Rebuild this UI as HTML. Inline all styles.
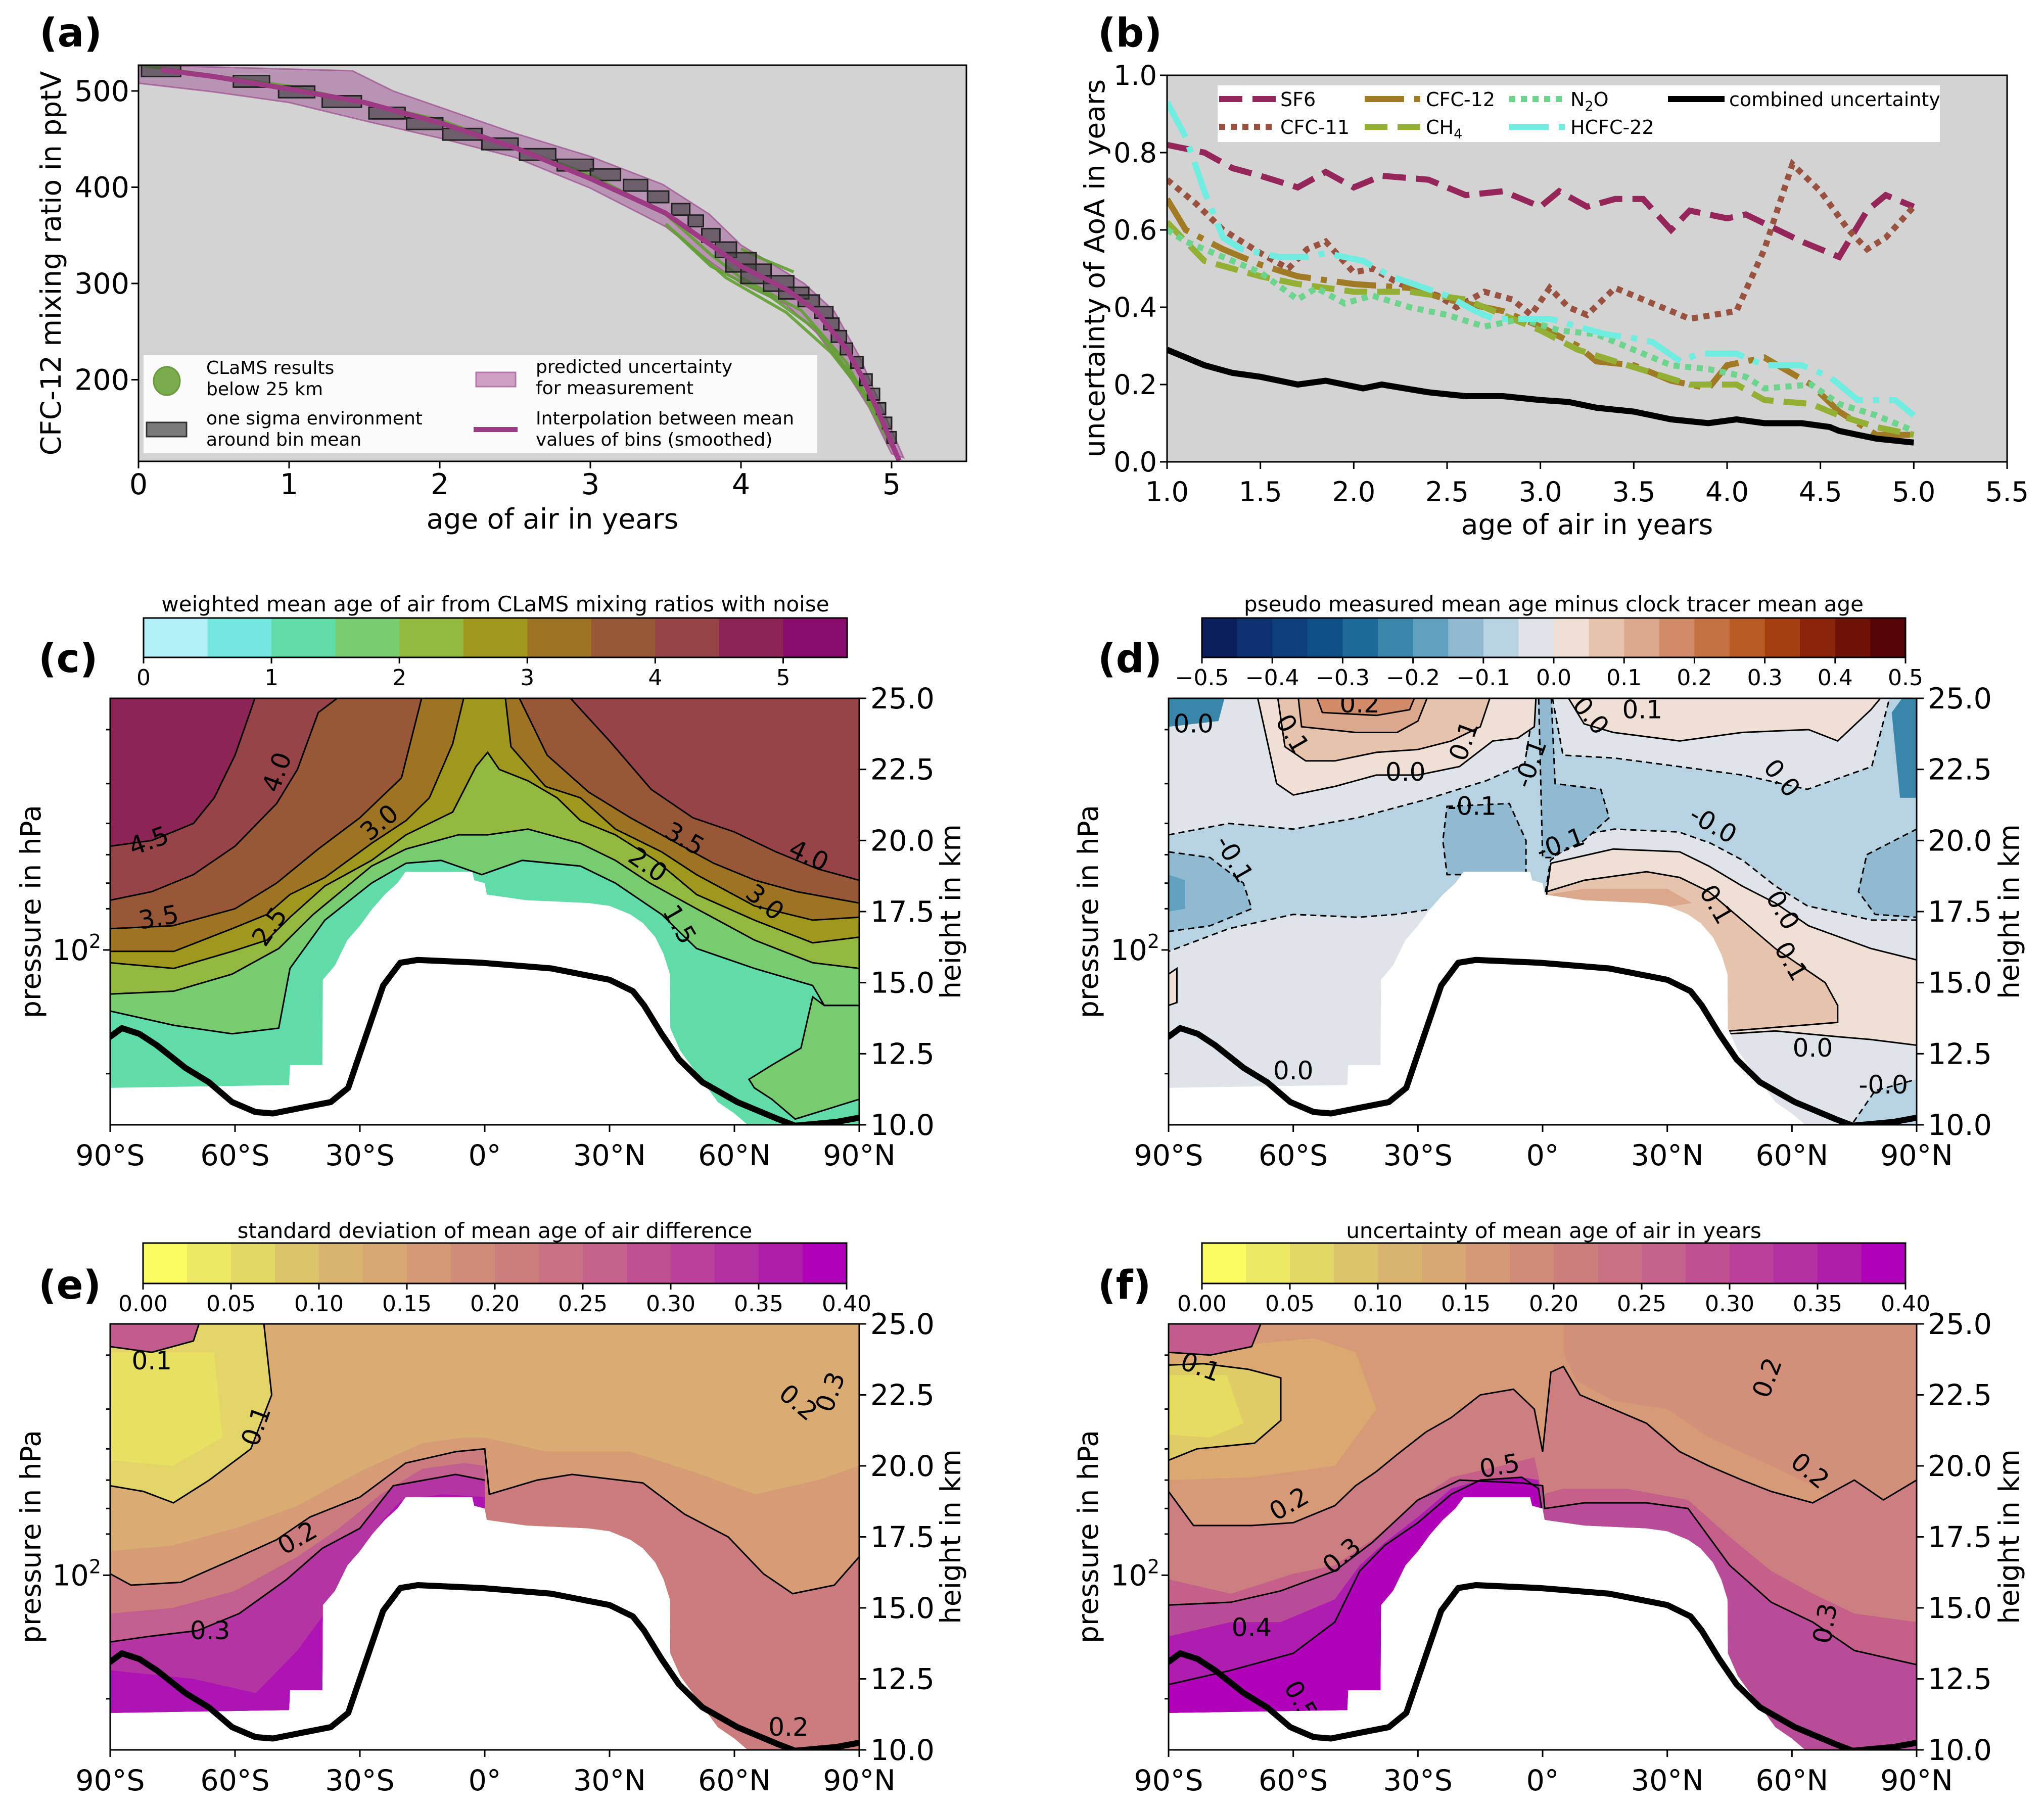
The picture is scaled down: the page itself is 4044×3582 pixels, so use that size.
<!DOCTYPE html>
<html><head><meta charset="utf-8">
<style>
html,body{margin:0;padding:0;background:#fff;}
svg{display:block;font-family:"DejaVu Sans","Liberation Sans",sans-serif;}
</style></head>
<body>
<svg id="fig" width="4044" height="3582" viewBox="0 0 4044 3582" xmlns="http://www.w3.org/2000/svg">
<defs id="defs"></defs>
<rect x="0" y="0" width="4044" height="3582" fill="#ffffff"/>
<g font-weight="bold" font-size="78" fill="#000">
<text x="78" y="92">(a)</text>
<text x="2172" y="92">(b)</text>
<text x="76" y="1330">(c)</text>
<text x="2172" y="1330">(d)</text>
<text x="76" y="2570">(e)</text>
<text x="2172" y="2570">(f)</text>
</g>
<g font-size="55" fill="#000" text-anchor="middle">
<text x="1093" y="1046">age of air in years</text>
<text transform="translate(120,521) rotate(-90)">CFC-12 mixing ratio in pptV</text>
<text x="3140" y="1057">age of air in years</text>
<text transform="translate(2185,531) rotate(-90)">uncertainty of AoA in years</text>
<text transform="translate(80,1804) rotate(-90)">pressure in hPa</text>
<text transform="translate(1900,1804) rotate(-90)">height in km</text>
<text transform="translate(2172,1804) rotate(-90)">pressure in hPa</text>
<text transform="translate(3994,1804) rotate(-90)">height in km</text>
<text transform="translate(80,3041) rotate(-90)">pressure in hPa</text>
<text transform="translate(1900,3041) rotate(-90)">height in km</text>
<text transform="translate(2172,3041) rotate(-90)">pressure in hPa</text>
<text transform="translate(3994,3041) rotate(-90)">height in km</text>
</g>
<g font-size="42" fill="#000" text-anchor="middle">
<text x="980" y="1210">weighted mean age of air from CLaMS mixing ratios with noise</text>
<text x="3074" y="1210">pseudo measured mean age minus clock tracer mean age</text>
<text x="979" y="2450">standard deviation of mean age of air difference</text>
<text x="3074" y="2450">uncertainty of mean age of air in years</text>
</g>
<g id="layer"></g>
</svg>
<script>
const NS='http://www.w3.org/2000/svg';
const layer=document.getElementById('layer');
const defs=document.getElementById('defs');
function mk(tag,parent,attrs){const e=document.createElementNS(NS,tag);for(const k in attrs)e.setAttribute(k,attrs[k]);parent.appendChild(e);return e;}

/* ---------------- PANEL A DATA ---------------- */
const aCurveAge=[0.15,0.5,1,1.5,2,2.5,3,3.5,3.8,4,4.3,4.5,4.7,4.8,4.9,5.0,5.05];
const aCurveMix=[522,515,502,488,467,441,409,373,340,318,294,271,232,204,171,134,116];
const aBandUpAge=[0,1.42,1.69,2.5,3.0,3.48,3.79,4.0,4.42,4.62,4.79,5.08];
const aBandUp=[527,521,500,456,432,403,372,340,300,271,223,119];
const aBandLoAge=[0,0.5,1,1.5,2,2.5,3,3.5,3.8,4.0,4.3,4.5,4.7,4.85,5.0];
const aBandLo=[508,499,488,469,451,431,399,359,322,300,278,249,208,171,123];
const binAge=[0.15,0.75,1.05,1.35,1.65,1.9,2.15,2.4,2.65,2.9,3.1,3.3,3.45,3.6,3.7,3.8,3.9,4.0,4.1,4.25,4.35,4.45,4.55,4.6,4.65,4.7,4.77,4.83,4.88,4.93,4.97,5.0];
const binMix=[522,510,499,489,477,466,455,445,434,423,413,402,390,377,365,350,335,322,310,300,290,282,270,258,245,232,218,200,185,170,155,140];
const binSdAge=[0.13,0.12,0.12,0.13,0.12,0.12,0.13,0.12,0.12,0.12,0.1,0.08,0.07,0.06,0.05,0.06,0.07,0.1,0.1,0.1,0.1,0.07,0.06,0.05,0.05,0.04,0.04,0.04,0.04,0.03,0.03,0.03];
const binSdMix=[7,6,6,6,6,6,6,6,6,6,6,6,6,6,6,7,8,10,10,8,6,6,6,6,6,6,6,6,6,6,6,6];
const g1Age=[0,1,2,3,3.5,3.8,4.0,4.4,4.7,5.0];
const g1Mix=[527,505,470,413,372,330,306,272,218,130];
const g2Age=[3.5,3.8,4.2,4.5,4.8,5.0];
const g2Mix=[362,318,286,252,192,138];
const g3Age=[3.55,3.9,4.3,4.6,4.9];
const g3Mix=[355,306,270,228,168];
const g4Age=[4.0,4.15,4.35];
const g4Mix=[336,325,312];

/* ---------------- PANEL B DATA ---------------- */
const bSF6x=[1.0,1.1,1.2,1.35,1.5,1.7,1.85,2.0,2.15,2.4,2.6,2.8,3.0,3.1,3.25,3.4,3.55,3.7,3.8,4.0,4.1,4.4,4.6,4.75,4.85,5.0];
const bSF6y=[0.82,0.81,0.80,0.76,0.74,0.71,0.75,0.71,0.74,0.73,0.69,0.70,0.66,0.70,0.66,0.68,0.68,0.60,0.65,0.63,0.64,0.57,0.53,0.65,0.69,0.66];
const bC11x=[1.0,1.15,1.3,1.5,1.65,1.75,1.85,2.0,2.1,2.25,2.45,2.55,2.7,2.85,2.95,3.05,3.15,3.25,3.4,3.6,3.8,4.05,4.2,4.35,4.5,4.65,4.75,4.85,5.0];
const bC11y=[0.73,0.67,0.60,0.54,0.50,0.55,0.57,0.49,0.50,0.46,0.43,0.40,0.44,0.42,0.38,0.45,0.40,0.38,0.45,0.41,0.37,0.39,0.55,0.77,0.70,0.60,0.55,0.58,0.66];
const bC12x=[1.0,1.1,1.3,1.5,1.7,2.0,2.3,2.5,2.8,3.0,3.2,3.3,3.5,3.7,3.9,4.0,4.2,4.45,4.6,4.8,5.0];
const bC12y=[0.68,0.60,0.55,0.51,0.48,0.46,0.45,0.42,0.39,0.35,0.30,0.26,0.25,0.21,0.19,0.25,0.27,0.20,0.13,0.07,0.07];
const bCH4x=[1.0,1.1,1.2,1.35,1.5,1.7,2.0,2.3,2.6,2.8,3.0,3.2,3.4,3.6,3.8,4.05,4.2,4.45,4.6,4.8,5.0];
const bCH4y=[0.62,0.57,0.52,0.50,0.48,0.46,0.44,0.44,0.42,0.38,0.34,0.29,0.26,0.23,0.20,0.20,0.16,0.15,0.12,0.09,0.07];
const bN2Ox=[1.0,1.1,1.3,1.5,1.7,1.8,1.95,2.1,2.3,2.5,2.7,2.9,3.1,3.3,3.5,3.7,3.9,4.1,4.2,4.45,4.6,4.8,5.0];
const bN2Oy=[0.60,0.57,0.53,0.49,0.42,0.45,0.41,0.43,0.40,0.38,0.35,0.37,0.34,0.33,0.29,0.25,0.24,0.22,0.19,0.20,0.15,0.12,0.08];
const bH22x=[1.0,1.1,1.2,1.3,1.4,1.6,1.75,1.85,2.05,2.2,2.5,2.65,2.75,2.95,3.05,3.2,3.35,3.5,3.6,3.75,3.85,4.05,4.2,4.4,4.55,4.7,4.9,5.0];
const bH22y=[0.93,0.84,0.70,0.58,0.55,0.53,0.53,0.54,0.52,0.48,0.43,0.39,0.37,0.37,0.37,0.35,0.33,0.32,0.31,0.26,0.28,0.28,0.25,0.25,0.22,0.16,0.16,0.12];
const bCombx=[1.0,1.2,1.35,1.5,1.7,1.85,2.05,2.15,2.4,2.6,2.8,3.0,3.15,3.3,3.5,3.7,3.9,4.05,4.2,4.4,4.55,4.6,4.8,5.0];
const bComby=[0.29,0.25,0.23,0.22,0.20,0.21,0.19,0.20,0.18,0.17,0.17,0.16,0.155,0.14,0.13,0.11,0.10,0.11,0.10,0.10,0.09,0.08,0.06,0.05];
const bTicksX=[1.0,1.5,2.0,2.5,3.0,3.5,4.0,4.5,5.0,5.5];
const bTicksY=[0.0,0.2,0.4,0.6,0.8,1.0];

/* ---------------- CONTOUR PANEL DATA (lat, km) ---------------- */
const latTicks=[-90,-60,-30,0,30,60,90];
const latTickLabels=['90°S','60°S','30°S','0°','30°N','60°N','90°N'];
const kmTicks=[10,12.5,15,17.5,20,22.5,25];
const pMinorKm=[23.9,22.0,20.6,19.5,18.5,17.6,11.8];
const p100Km=16.15;
const maskLine=[[-90,11.3],[-47,11.4],[-46.8,12.1],[-39,12.1],[-38.9,15.1],[-36,15.6],[-33,16.5],[-30,17.0],[-27,17.6],[-24,18.1],[-21,18.5],[-19,18.9],[-3,18.9],[-2.5,18.6],[0,18.5],[0.5,18.1],[10,17.9],[25,17.8],[30,17.7],[35,17.4],[38,17.1],[41,16.6],[43,16.0],[44.5,15.3],[44.6,13.4],[47,12.6],[50,12.0],[53,11.4],[56,10.8],[60,10.4],[64,9.9],[90,9.9]];
const tropo=[[-90,13.1],[-87.2,13.4],[-83,13.2],[-78.8,12.8],[-71.9,12.0],[-66.3,11.5],[-60.7,10.8],[-55.1,10.45],[-50.9,10.4],[-44,10.6],[-37,10.8],[-32.8,11.3],[-28.6,13.1],[-24.4,14.9],[-20.3,15.7],[-16.1,15.8],[-0.7,15.7],[16,15.5],[30,15.1],[35.6,14.7],[38.3,14.2],[42.5,13.2],[46.7,12.3],[52.3,11.5],[60.7,10.8],[70.5,10.2],[74.6,9.97],[84.4,10.1],[90,10.25]];

const cIso15=[[-90,14.0],[-74.7,13.5],[-60.7,13.2],[-49.5,13.4],[-46.8,15.5],[-38.4,17.2],[-27.2,18.5],[-18.9,19.2],[-10.5,19.3],[-0.7,18.8],[9,19.3],[23,19.1],[31.4,18.5],[42.5,17.4],[50.9,16.2],[64.8,15.5],[78.8,14.9],[81.6,14.2],[90,14.2]];
const cIso20=[[-90,14.6],[-74.7,14.7],[-60.7,15.3],[-49.5,16.2],[-41.2,17.4],[-27.2,19.1],[-18.9,19.7],[-6.3,20.2],[0.7,20.2],[10.4,20.4],[23,19.9],[31.4,19.3],[39.7,18.5],[50.9,17.6],[64.8,16.5],[78.8,15.7],[90,15.5]];
const cIso25=[[-90,15.7],[-74.7,15.5],[-60.7,16.1],[-52.3,16.5],[-46.8,17.3],[-38.4,18.4],[-27.2,19.3],[-18.9,20.2],[-7.7,21.0],[-2.1,22.6],[0.7,23.1],[3.5,22.5],[10.4,22.1],[17.4,21.5],[23,20.7],[31.4,20.2],[41.1,19.3],[50.9,18.1],[64.8,17.2],[78.8,16.4],[90,16.6]];
const cIso30=[[-90,16.1],[-74.7,16.1],[-60.7,16.9],[-52.3,17.4],[-46.8,18.1],[-38.4,18.7],[-27.2,19.9],[-18.9,20.7],[-13.3,21.5],[-7.7,23.4],[-4.9,25.1],[0,26],[4.9,25.1],[6.3,23.3],[14.6,21.9],[23,21.5],[31.4,20.4],[42.5,19.6],[50.9,18.8],[64.8,17.7],[78.8,17.2],[90,17.3]];
const cIso35=[[-90,16.9],[-75,17.0],[-60,17.6],[-50,18.5],[-40,19.7],[-30,20.8],[-20,22.2],[-15,25.1],[-10,27],[5,27],[8,25.1],[15,23.0],[25,21.7],[35,20.8],[45,20.0],[55,19.2],[65,18.6],[75,18.2],[90,17.8]];
const cIso40=[[-90,17.9],[-80,18.2],[-70,18.8],[-60,19.8],[-50,21.3],[-45,22.5],[-40,24.5],[-35,25.05],[-26,25.1],[-20,27],[15,27],[20,25.1],[30,23.5],[40,21.8],[50,20.8],[60,20.3],[70,19.6],[80,19.0],[90,18.6]];
const cIso45=[[-90,19.8],[-80,20.0],[-70,20.6],[-65,21.5],[-60,23],[-55,25.1],[-50,27],[90,27]];
const cBlobGreen=[[63.5,11.6],[69,12.1],[76,12.7],[78.8,14.5],[81.6,14.2],[90,14.2],[90,10.9],[74.6,10.2],[69,10.9],[64.8,11.3]];
const cColors=['#b4f0f8','#74e8e0','#60dca8','#78cc70','#92b840','#a0981c','#9c7424','#985838','#964448','#8c2456','#880c6c'];

const dBlue=[[-90,20.2],[-75.5,20.6],[-60,20.4],[-44.5,20.8],[-29.1,21.4],[-13.6,22.1],[-4.3,22.7],[-1.5,25.3],[2,25.3],[4.9,23.0],[17.3,22.9],[32.8,22.6],[48.2,22.3],[63.7,21.8],[79.2,22.6],[84,25.3],[90,25.3],[90,17.2],[79.2,17.2],[63.7,17.7],[56,18.4],[48.2,19.3],[40.5,19.9],[32.8,20.3],[17.3,20.4],[9.6,20.2],[1.9,19.3],[0.5,18.0],[0,17.5],[-26,17.6],[-35.3,17.4],[-44.5,17.3],[-60,17.4],[-75.5,16.9],[-90,16.1]];
const dBlueL=[[-90,19.6],[-80,19.4],[-72,18.5],[-70,17.6],[-80,17.0],[-90,16.8]];
const dBlueM=[[-23,21.2],[-8,21.3],[-4,20.0],[-4,18.8],[-23,18.8],[-24,20.0]];
const dBlueEq=[[-1,25.3],[2,25.3],[3,22],[14,21.8],[16,20.8],[10,20.0],[2,19.4],[0,19.4]];
const dBlueR=[[78,19.5],[90,20.4],[90,17.3],[80,17.4],[76,18.2]];
const dDarkTL=[[-90,25.3],[-76,25.3],[-78,24.2],[-90,24.0]];
const dDarkTR=[[84,24.5],[88,25.3],[90,25.3],[90,21.5],[86,21.5],[85,23]];
const dDarkL=[[-90,18.8],[-86,18.6],[-86,17.6],[-90,17.5]];
const dPink0=[[-69,25.3],[-64,22.0],[-60,21.6],[-50,21.9],[-40,22.3],[-30,22.3],[-20,22.6],[-12,23.5],[-6,23.6],[-2,24.0],[-1.5,25.3]];
const dPink1=[[-64,25.3],[-62,23.3],[-57,22.8],[-50,22.8],[-40,23.1],[-30,23.2],[-22,23.5],[-15,24.0],[-12,25.3]];
const dPink2=[[-59,25.3],[-58,24.0],[-45,23.8],[-35,23.8],[-30,24.2],[-27,25.3]];
const dPink3=[[-55,25.3],[-53,24.5],[-40,24.4],[-32,24.6],[-30,25.3]];
const dPinkTR=[[5,25.3],[10,24.1],[17,23.8],[33,23.5],[48,23.8],[64,23.9],[71,23.5],[79,24.6],[83,25.3]];
const dPinkR0=[[1,18.2],[2,19.2],[17,19.7],[33,19.6],[40,19.1],[48,18.4],[56,17.8],[64,17.0],[79,16.2],[90,15.8],[90,12.8],[79,13.0],[71,13.1],[56,13.3],[45,13.2],[45,9.5],[1,9.5]];
const dPinkR1=[[1,18.2],[10,18.6],[25,18.9],[33,18.7],[40,18.2],[48,17.2],[56,16.2],[68,15.0],[71,14.2],[71,13.6],[45,13.3],[45,9.5],[1,9.5]];
const dPinkR2=[[1,18.1],[10,18.3],[30,18.3],[36,17.8],[1,17.0]];
const dPinkL=[[-90,15.3],[-88,15.5],[-88,14.3],[-90,14.2]];
const dBlueBR=[[72,9.5],[80,11.2],[90,11.6],[90,9.5]];
const dColors=['#0a1f5c','#0d306e','#0e3f7a','#0f5186','#1d6a98','#3a85aa','#62a0c0','#8fbad2','#b7d3e2','#dfe4ea','#f0dfd4','#e6c3ad','#dca88b','#d08c68','#c57142','#b85b24','#a43f12','#8a240a','#6e1208','#560408'];

const eYellow=[[-90,25.3],[-53.3,25.3],[-51.2,22.5],[-56.2,20.6],[-66.2,19.5],[-74.8,18.7],[-82,19.1],[-90,19.3]];
const eYellowIn=[[-90,24],[-65,24],[-63,21],[-75,20],[-90,20.2]];
const eCorner=[[-90,25.3],[-68,25.3],[-70,24.4],[-80,24.0],[-90,24.2]];
const eIso15=[[-90,17.0],[-75,17.2],[-60,17.8],[-45,18.6],[-30,19.8],[-15,20.8],[-5,21.0],[0,21.0],[15,20.5],[35,20.5],[50,19.8],[65,19.0],[80,19.5],[90,20]];
const eIso20=[[-90,16.2],[-85,15.8],[-73,15.9],[-59,16.8],[-50,17.4],[-42,18.2],[-30,18.9],[-19,20.1],[-7,20.5],[0,20.6],[1.1,19.0],[12.6,19.5],[21,19.7],[38,19.4],[48,18.3],[58.5,17.5],[67,16.2],[74,15.5],[84,15.8],[90,16.8]];
const eIso25=[[-90,14.8],[-75,15.0],[-60,15.6],[-45,16.8],[-35,17.8],[-25,19.0],[-15,19.9],[-5,20.1],[0,20.0],[0.5,5],[90,5]];
const eIso30=[[-90,13.8],[-80.5,14.0],[-69,14.2],[-59,14.8],[-47.6,16.0],[-39,17.1],[-30,17.8],[-22,19.3],[-7,19.7],[0,19.5],[0.5,5],[90,5]];
const eIso35=[[-90,12.8],[-70,12.5],[-55,12.0],[-45,13.5],[-35,15.5],[-25,18],[-20,18.8],[-10,19.0],[0,18.9],[0.5,5],[90,5]];
const efColors=['#fcfc62','#ecea64','#e2d866','#dcc46a','#d9b470','#d8a872','#d49a76','#d08c78','#cc7e7c','#c87284','#c4628c','#be5092','#b8409a','#b230a2','#ae1eaa','#b000b8'];

const fBand125=[[-90,24],[-55,24.5],[-45,24],[-40,22],[-50,20],[-70,19.6],[-90,19.5]];
const fYellow=[[-90,23.55],[-81.6,23.6],[-70.8,23.4],[-63,23.1],[-63,21.6],[-69.3,20.8],[-83.2,20.6],[-90,20.2]];
const fYellowIn=[[-90,23.2],[-76,23.2],[-72,21.5],[-80,21],[-90,21.1]];
const fCorner=[[-90,25.3],[-67,25.3],[-70,24.2],[-80,23.9],[-90,24.0]];
const fRight=[[5,25.3],[90,25.3],[90,18.5],[75,18.5],[65,19.3],[55,20.0],[40,21],[30,22],[17,22.3],[8,23],[5,24]];
const fIso20=[[-90,19.1],[-84,17.9],[-70,17.9],[-60,18.0],[-50,18.6],[-45,19.3],[-40,19.8],[-35,20.4],[-28,21.2],[-22,21.7],[-15,22.5],[-7,22.7],[-2,22.0],[0,20.5],[2,23.3],[5,23.5],[9,22.5],[17,22.0],[25,21.5],[33,20.5],[40,20.0],[48,19.5],[55,19.1],[65,18.7],[75,19.5],[82,18.8],[90,19.5]];
const fIso25=[[-90,16.0],[-75,15.5],[-60,16.2],[-50,16.5],[-40,17.5],[-30,18.8],[-22,19.6],[-10,20.0],[-2,20.3],[0,19.0],[5,19.2],[20,19.2],[35,18.8],[45,17.5],[55,16.3],[65,15.5],[75,14.8],[90,14.5]];
const fIso30=[[-90,15.1],[-75,15.2],[-63,15.6],[-50,16.3],[-41,17.3],[-30,18.8],[-20,19.5],[-5,19.4],[0,19.3],[0.5,18.5],[10,18.7],[25,18.7],[35,18.5],[40,17.5],[45,16.5],[55,15.2],[65,14.5],[75,13.5],[90,13.0]];
const fIso35=[[-90,14.0],[-75,14.5],[-63,14.5],[-50,15.3],[-44,16.5],[-38,17.3],[-30,18.2],[-22,19.2],[-15,19.5],[-5,19.6],[-1,19.5],[0,18.3],[0.5,5],[90,5]];
const fIso40=[[-90,12.3],[-75,12.8],[-60,13.4],[-50,14.5],[-44,16.3],[-38,17.2],[-30,18.0],[-22,19.0],[-15,19.5],[-5,19.6],[-1,19.2],[0,18.3],[0.5,5],[90,5]];

/* ---------------- helpers ---------------- */
function tick(parent,x1,y1,x2,y2){return mk('line',parent,{x1:x1,y1:y1,x2:x2,y2:y2,stroke:'#000','stroke-width':3});}
function txt(parent,x,y,s,size,anchor){const t=mk('text',parent,{x:x,y:y,'font-size':size,'text-anchor':anchor||'middle',fill:'#000'});t.textContent=s;return t;}
function pairsPath(pairs,X,Y){return pairs.map((p,i)=>(i?'L':'M')+X(p[0]).toFixed(1)+','+Y(p[1]).toFixed(1)).join('')}

/* ---------------- PANEL A ---------------- */
(function(){
 const P={x0:274,x1:1912,y0:129,y1:913};
 const X=a=>P.x0+a*(1764-274)/5; const Y=m=>180+(500-m)*1.905;
 const g=mk('g',layer,{});
 
 
 const cp=mk('clipPath',defs,{id:'clipA'}); mk('rect',cp,{x:P.x0,y:P.y0,width:P.x1-P.x0,height:P.y1-P.y0});
 const bg=mk('rect',g,{x:P.x0,y:P.y0,width:P.x1-P.x0,height:P.y1-P.y0,fill:'#d3d3d3'});
 
 
 const inner=mk('g',g,{'clip-path':'url(#clipA)'});
 let d='';
 aBandUpAge.forEach((a,i)=>{d+=(i?'L':'M')+X(a)+','+Y(aBandUp[i]);});
 for(let i=aBandLoAge.length-1;i>=0;i--){d+='L'+X(aBandLoAge[i])+','+Y(aBandLo[i]);}
 const band=mk('path',inner,{d:d+'Z',fill:'rgba(150,60,135,0.42)',stroke:'rgba(150,60,135,0.6)','stroke-width':3});
 
 
 [[g1Age,g1Mix],[g2Age,g2Mix],[g3Age,g3Mix],[g4Age,g4Mix]].forEach(s=>{
  const pl=mk('polyline',inner,{points:s[0].map((a,i)=>X(a)+','+Y(s[1][i])).join(' '),fill:'none',stroke:'#62a034','stroke-width':6,opacity:0.9});
  
  
 });
 binAge.forEach((a,i)=>{
  const r=mk('rect',inner,{x:X(a-binSdAge[i]),y:Y(binMix[i]+binSdMix[i]),width:X(a+binSdAge[i])-X(a-binSdAge[i]),height:Y(binMix[i]-binSdMix[i])-Y(binMix[i]+binSdMix[i]),fill:'rgba(60,60,60,0.6)',stroke:'#222','stroke-width':3});
  
  
 });
 const cur=mk('polyline',inner,{points:aCurveAge.map((a,i)=>X(a)+','+Y(aCurveMix[i])).join(' '),fill:'none',stroke:'#9c3a84','stroke-width':10,'stroke-linejoin':'round'});
 
 
 const lg=mk('g',g,{});
 
 
 mk('rect',lg,{x:284,y:703,width:1333,height:194,fill:'#fff',opacity:0.9});
 mk('ellipse',lg,{cx:330,cy:754,rx:26,ry:28,fill:'#7aab4c',stroke:'#6a9a3c','stroke-width':3});
 txt(lg,408,740,'CLaMS results',36,'start');
 txt(lg,408,782,' below 25 km',36,'start');
 mk('rect',lg,{x:290,y:836,width:79,height:28,fill:'#7a7a7a',stroke:'#333','stroke-width':3});
 txt(lg,408,840,'one sigma environment',36,'start');
 txt(lg,408,882,'around bin mean',36,'start');
 mk('rect',lg,{x:942,y:737,width:78,height:28,fill:'#cda0c4',stroke:'#b476aa','stroke-width':3});
 txt(lg,1060,738,'predicted uncertainty',36,'start');
 txt(lg,1060,780,'for measurement',36,'start');
 mk('line',lg,{x1:937,y1:850,x2:1024,y2:850,stroke:'#9c3a84','stroke-width':10});
 txt(lg,1060,840,'Interpolation between mean',36,'start');
 txt(lg,1060,882,'values of bins (smoothed)',36,'start');
 mk('rect',g,{x:P.x0,y:P.y0,width:P.x1-P.x0,height:P.y1-P.y0,fill:'none',stroke:'#000','stroke-width':3});
 [0,1,2,3,4,5].forEach(v=>{tick(g,X(v),P.y1,X(v),P.y1+14);const t=txt(g,X(v),978,String(v),57);
  
  });
 [200,300,400,500].forEach(v=>{tick(g,P.x0,Y(v),P.x0-14,Y(v));const t=txt(g,256,Y(v)+20,String(v),57,'end');
  
  });
})();

/* ---------------- PANEL B ---------------- */
(function(){
 const P={x0:2309,x1:3971,y0:149,y1:914};
 const X=a=>P.x0+(a-1)/4.5*(P.x1-P.x0); const Y=v=>P.y1-v*(P.y1-P.y0);
 const g=mk('g',layer,{});
 
 
 const cp=mk('clipPath',defs,{id:'clipB'}); mk('rect',cp,{x:P.x0,y:P.y0,width:P.x1-P.x0,height:P.y1-P.y0});
 const bg=mk('rect',g,{x:P.x0,y:P.y0,width:P.x1-P.x0,height:P.y1-P.y0,fill:'#d3d3d3'});
 
 
 const inner=mk('g',g,{'clip-path':'url(#clipB)'});
 const series=[
  ['sf6-line',bSF6x,bSF6y,'#94265a','46,20'],
  ['cfc11-line',bC11x,bC11y,'#9a5240','12,11'],
  ['cfc12-line',bC12x,bC12y,'#a07a24','78,20,12,20'],
  ['ch4-line',bCH4x,bCH4y,'#94b034','45,20'],
  ['n2o-line',bN2Ox,bN2Oy,'#6cd48c','12,11'],
  ['hcfc22-line',bH22x,bH22y,'#70ece0','78,20,12,20'],
  ['combined-uncertainty-line',bCombx,bComby,'#000','none']];
 series.forEach(s=>{
  const pl=mk('polyline',inner,{points:s[1].map((a,i)=>X(a).toFixed(1)+','+Y(s[2][i]).toFixed(1)).join(' '),fill:'none',stroke:s[3],'stroke-width':12,'stroke-dasharray':s[4]});
  
  
 });
 const lg=mk('g',g,{});
 
 
 mk('rect',lg,{x:2409,y:169,width:1429,height:112,fill:'#fff'});
 const items=[['SF6',2412,196,'#94265a','46,20'],['CFC-11',2412,251,'#9a5240','12,11'],['CFC-12',2700,196,'#a07a24','78,20,12,20'],['CH',2700,251,'#94b034','45,20'],['N',2986,196,'#6cd48c','12,11'],['HCFC-22',2986,251,'#70ece0','78,20,12,20'],['combined uncertainty',3300,196,'#000','none']];
 items.forEach(it=>{
  const ln=mk('line',lg,{x1:it[1],y1:it[2],x2:it[1]+112,y2:it[2],stroke:it[3],'stroke-width':12,'stroke-dasharray':it[4]});
  
  
  const t=txt(lg,it[1]+121,it[2]+14,it[0],38,'start');
  
  
  if(it[0]==='CH'){const s=mk('tspan',t,{'font-size':27,dy:9});s.textContent='4';}
  if(it[0]==='N'){const s=mk('tspan',t,{'font-size':27,dy:9});s.textContent='2';const s2=mk('tspan',t,{dy:-9});s2.textContent='O';}
 });
 mk('rect',g,{x:P.x0,y:P.y0,width:P.x1-P.x0,height:P.y1-P.y0,fill:'none',stroke:'#000','stroke-width':3});
 bTicksX.forEach(v=>{tick(g,X(v),P.y1,X(v),P.y1+14);const t=txt(g,X(v),992,v.toFixed(1),54);
  
  });
 bTicksY.forEach(v=>{tick(g,P.x0,Y(v),P.x0-14,Y(v));const t=txt(g,P.x0-20,Y(v)+19,v.toFixed(1),54,'end');
  
  });
})();

/* ---------------- CONTOUR PANELS ---------------- */
function fieldPanel(cfg){
 const P=cfg;
 const X=lat=>P.x0+(lat+90)/180*(P.x1-P.x0);
 const Y=km=>P.y1-(km-10)/15*(P.y1-P.y0);
 const g=mk('g',layer,{});
 
 
 const cpR=mk('clipPath',defs,{id:'clipR'+P.id}); mk('rect',cpR,{x:P.x0,y:P.y0,width:P.x1-P.x0,height:P.y1-P.y0});
 const cpM=mk('clipPath',defs,{id:'clipM'+P.id});
 let md=pairsPath(maskLine,X,Y)+'L'+X(90)+','+(P.y0-5)+'L'+X(-90)+','+(P.y0-5)+'Z';
 mk('path',cpM,{d:md});
 const outer=mk('g',g,{'clip-path':'url(#clipR'+P.id+')'});
 const f=mk('g',outer,{'clip-path':'url(#clipM'+P.id+')'});
 
 
 mk('rect',f,{x:P.x0,y:P.y0-10,width:P.x1-P.x0,height:P.y1-P.y0+20,fill:P.base});
 P.layers.forEach(L=>{
  let d=pairsPath(L.pts,X,Y);
  if(L.type==='above') d+='L'+X(90)+','+(P.y0-50)+'L'+X(-90)+','+(P.y0-50);
  if(L.type==='below') d+='L'+X(90)+','+(P.y1+50)+'L'+X(-90)+','+(P.y1+50);
  const p=mk('path',f,{d:d+'Z',fill:L.color,stroke:L.stroke||'none','stroke-width':L.stroke?3:0,'stroke-dasharray':L.dash||'none'});
  
  
 });
 (P.lines||[]).forEach(L=>{
  const p=mk('path',f,{d:pairsPath(L.pts,X,Y)+(L.closed?'Z':''),fill:'none',stroke:'#000','stroke-width':3,'stroke-dasharray':L.dash||'none'});
  
  
 });
 (P.labels||[]).forEach(L=>{
  const t=mk('text',f,{x:0,y:0,'font-size':50,'text-anchor':'middle',fill:'#000',transform:'translate('+X(L[0]).toFixed(1)+','+Y(L[1]).toFixed(1)+') rotate('+L[3]+')'});
  t.textContent=L[2];
  
  
 });
 const tp=mk('path',outer,{d:pairsPath(tropo,X,Y),fill:'none',stroke:'#000','stroke-width':12,'stroke-linejoin':'round','stroke-linecap':'round'});
 
 
 const fr=mk('rect',g,{x:P.x0,y:P.y0,width:P.x1-P.x0,height:P.y1-P.y0,fill:'none',stroke:'#000','stroke-width':3});
 
 
 latTicks.forEach((v,i)=>{tick(g,X(v),P.y1,X(v),P.y1+14);const t=txt(g,X(v),P.y1+80,latTickLabels[i],57);
  
  });
 kmTicks.forEach(v=>{tick(g,P.x1,Y(v),P.x1+14,Y(v));const t=txt(g,P.x1+22,Y(v)+20,v.toFixed(1),57,'start');
  
  });
 pMinorKm.forEach(v=>{tick(g,P.x0,Y(v),P.x0-8,Y(v));});
 tick(g,P.x0,Y(p100Km),P.x0-14,Y(p100Km));
 const t=txt(g,P.x0-18,Y(p100Km)+20,'10',57,'end');
 const sp=mk('tspan',t,{'font-size':38,dy:-24});sp.textContent='2';
 
 
 const cb=mk('g',g,{});
 
 
 const n=P.cbColors.length, w=(P.cbx1-P.cbx0)/n;
 P.cbColors.forEach((c,i)=>{const r=mk('rect',cb,{x:P.cbx0+i*w,y:P.cby0,width:w+0.6,height:P.cby1-P.cby0,fill:c});
  
  });
 mk('rect',cb,{x:P.cbx0,y:P.cby0,width:P.cbx1-P.cbx0,height:P.cby1-P.cby0,fill:'none',stroke:'#000','stroke-width':3});
 const CX=v=>P.cbx0+(v-P.cbMin)/(P.cbMax-P.cbMin)*(P.cbx1-P.cbx0);
 P.cbTicks.forEach((v,i)=>{tick(cb,CX(v),P.cby1,CX(v),P.cby1+12);const tt=txt(cb,CX(v),P.cby1+55,P.cbLabels[i],44);
  
  });
}

const cbTicksC=[0,1,2,3,4,5];
const cbTicksD=[-0.5,-0.4,-0.3,-0.2,-0.1,0,0.1,0.2,0.3,0.4,0.5];
const cbTicksE=[0,0.05,0.1,0.15,0.2,0.25,0.3,0.35,0.4];

fieldPanel({id:'c',x0:218,x1:1700,y0:1382,y1:2226,base:cColors[2],
 cbColors:cColors,cbx0:284,cbx1:1676,cby0:1223,cby1:1301,cbMin:0,cbMax:5.5,cbTicks:cbTicksC,cbLabels:cbTicksC.map(String),
 layers:[
  {type:'above',pts:cIso15,color:cColors[3]},
  {type:'poly',pts:cBlobGreen,color:cColors[3]},
  {type:'above',pts:cIso20,color:cColors[4]},
  {type:'above',pts:cIso25,color:cColors[5]},
  {type:'above',pts:cIso30,color:cColors[6]},
  {type:'above',pts:cIso35,color:cColors[7]},
  {type:'above',pts:cIso40,color:cColors[8]},
  {type:'above',pts:cIso45,color:cColors[9]}],
 lines:[{pts:cIso15},{pts:cBlobGreen,closed:true},{pts:cIso20},{pts:cIso25},{pts:cIso30},{pts:cIso35},{pts:cIso40},{pts:cIso45}],
 labels:[[-80,19.7,'4.5',-20],[-48,22.3,'4.0',-70],[-78,17.0,'3.5',-10],[-24,20.4,'3.0',-40],[-50,16.8,'2.5',-55],[38,18.9,'2.0',35],[45,16.9,'1.5',60],[47,19.8,'3.5',30],[66,17.6,'3.0',40],[77,19.2,'4.0',25]]});

fieldPanel({id:'d',x0:2312,x1:3792,y0:1382,y1:2226,base:dColors[9],
 cbColors:dColors,cbx0:2378,cbx1:3770,cby0:1223,cby1:1301,cbMin:-0.5,cbMax:0.5,cbTicks:cbTicksD,cbLabels:cbTicksD.map(v=>(v<0?'\u2212':'')+Math.abs(v).toFixed(1)),
 layers:[
  {type:'poly',pts:dBlue,color:dColors[8],stroke:'#000',dash:'12,8'},
  {type:'poly',pts:dBlueL,color:dColors[7],stroke:'#000',dash:'12,8'},
  {type:'poly',pts:dBlueM,color:dColors[7],stroke:'#000',dash:'12,8'},
  {type:'poly',pts:dBlueEq,color:dColors[7],stroke:'#000',dash:'12,8'},
  {type:'poly',pts:dBlueR,color:dColors[7],stroke:'#000',dash:'12,8'},
  {type:'poly',pts:dDarkTL,color:dColors[5]},
  {type:'poly',pts:dDarkTR,color:dColors[5]},
  {type:'poly',pts:dDarkL,color:dColors[6]},
  {type:'poly',pts:dPink0,color:dColors[10],stroke:'#000'},
  {type:'poly',pts:dPink1,color:dColors[11],stroke:'#000'},
  {type:'poly',pts:dPink2,color:dColors[12],stroke:'#000'},
  {type:'poly',pts:dPink3,color:dColors[13],stroke:'#000'},
  {type:'poly',pts:dPinkTR,color:dColors[10],stroke:'#000'},
  {type:'poly',pts:dPinkR0,color:dColors[10],stroke:'#000'},
  {type:'poly',pts:dPinkR1,color:dColors[11],stroke:'#000'},
  {type:'poly',pts:dPinkR2,color:dColors[12]},
  {type:'poly',pts:dPinkL,color:dColors[10],stroke:'#000'},
  {type:'poly',pts:dBlueBR,color:dColors[8],stroke:'#000',dash:'12,8'}],
 labels:[[-44,24.5,'0.2',0],[-62,23.6,'0.1',60],[-84,23.8,'0.0',0],[-17,23.4,'0.1',-70],[-33,22.1,'0.0',0],[-1,22.6,'-0.1',-70],[10,24.2,'0.0',50],[24,24.3,'0.1',0],[56,22.0,'0.0',50],[-17,20.9,'-0.1',0],[5,19.6,'-0.1',-20],[40,20.3,'-0.0',30],[-76,19.2,'-0.1',60],[40,17.6,'0.1',60],[56,17.4,'0.0',60],[58,15.6,'0.1',60],[65,12.4,'0.0',0],[82,11.1,'-0.0',0],[-60,11.6,'0.0',0]]});

fieldPanel({id:'e',x0:218,x1:1700,y0:2620,y1:3463,base:'#d8ac72',
 cbColors:efColors,cbx0:283,cbx1:1675,cby0:2460,cby1:2540,cbMin:0,cbMax:0.4,cbTicks:cbTicksE,cbLabels:cbTicksE.map(v=>v.toFixed(2)),
 layers:[
  {type:'poly',pts:eYellow,color:'#e2d466'},
  {type:'poly',pts:eYellowIn,color:'#e8e062'},
  {type:'poly',pts:eCorner,color:'#c25c8e'},
  {type:'below',pts:eIso15,color:'#d69c76'},
  {type:'below',pts:eIso20,color:'#cc7c7c'},
  {type:'below',pts:eIso25,color:'#c25e90'},
  {type:'below',pts:eIso30,color:'#b434a4'},
  {type:'below',pts:eIso35,color:'#ae14b4'}],
 lines:[{pts:eYellow},{pts:eCorner},{pts:eIso20},{pts:eIso30.slice(0,10)}],
 labels:[[-80,23.4,'0.1',0],[-53,21.3,'0.1',-70],[-44,17.2,'0.2',-30],[-66,13.9,'0.3',0],[74,22.0,'0.2',40],[85,22.5,'0.3',-70],[73,10.5,'0.2',0]]});

fieldPanel({id:'f',x0:2312,x1:3792,y0:2620,y1:3463,base:'#d69a76',
 cbColors:efColors,cbx0:2378,cbx1:3770,cby0:2460,cby1:2540,cbMin:0,cbMax:0.4,cbTicks:cbTicksE,cbLabels:cbTicksE.map(v=>v.toFixed(2)),
 layers:[
  {type:'poly',pts:fBand125,color:'#daa870'},
  {type:'poly',pts:fYellow,color:'#e0cc66'},
  {type:'poly',pts:fYellowIn,color:'#e6dc62'},
  {type:'poly',pts:fCorner,color:'#c25c8e'},
  {type:'poly',pts:fRight,color:'#d2907a'},
  {type:'below',pts:fIso20,color:'#cc7e80'},
  {type:'below',pts:fIso25,color:'#c4608a'},
  {type:'below',pts:fIso30,color:'#b84c98'},
  {type:'below',pts:fIso35,color:'#ae1cb0'},
  {type:'below',pts:fIso40,color:'#b000b8'}],
 lines:[{pts:fYellow},{pts:fCorner},{pts:fIso20},{pts:fIso30},{pts:fIso40.slice(0,12)}],
 labels:[[-83,23.2,'0.1',20],[-60,18.4,'0.2',-30],[-47,16.6,'0.3',-40],[-70,14.0,'0.4',0],[-10,19.7,'0.5',-10],[63,19.6,'0.2',40],[70,14.4,'0.3',-80],[56,23.0,'0.2',-70],[-60,11.6,'0.5',60]]});
</script>
</body></html>
